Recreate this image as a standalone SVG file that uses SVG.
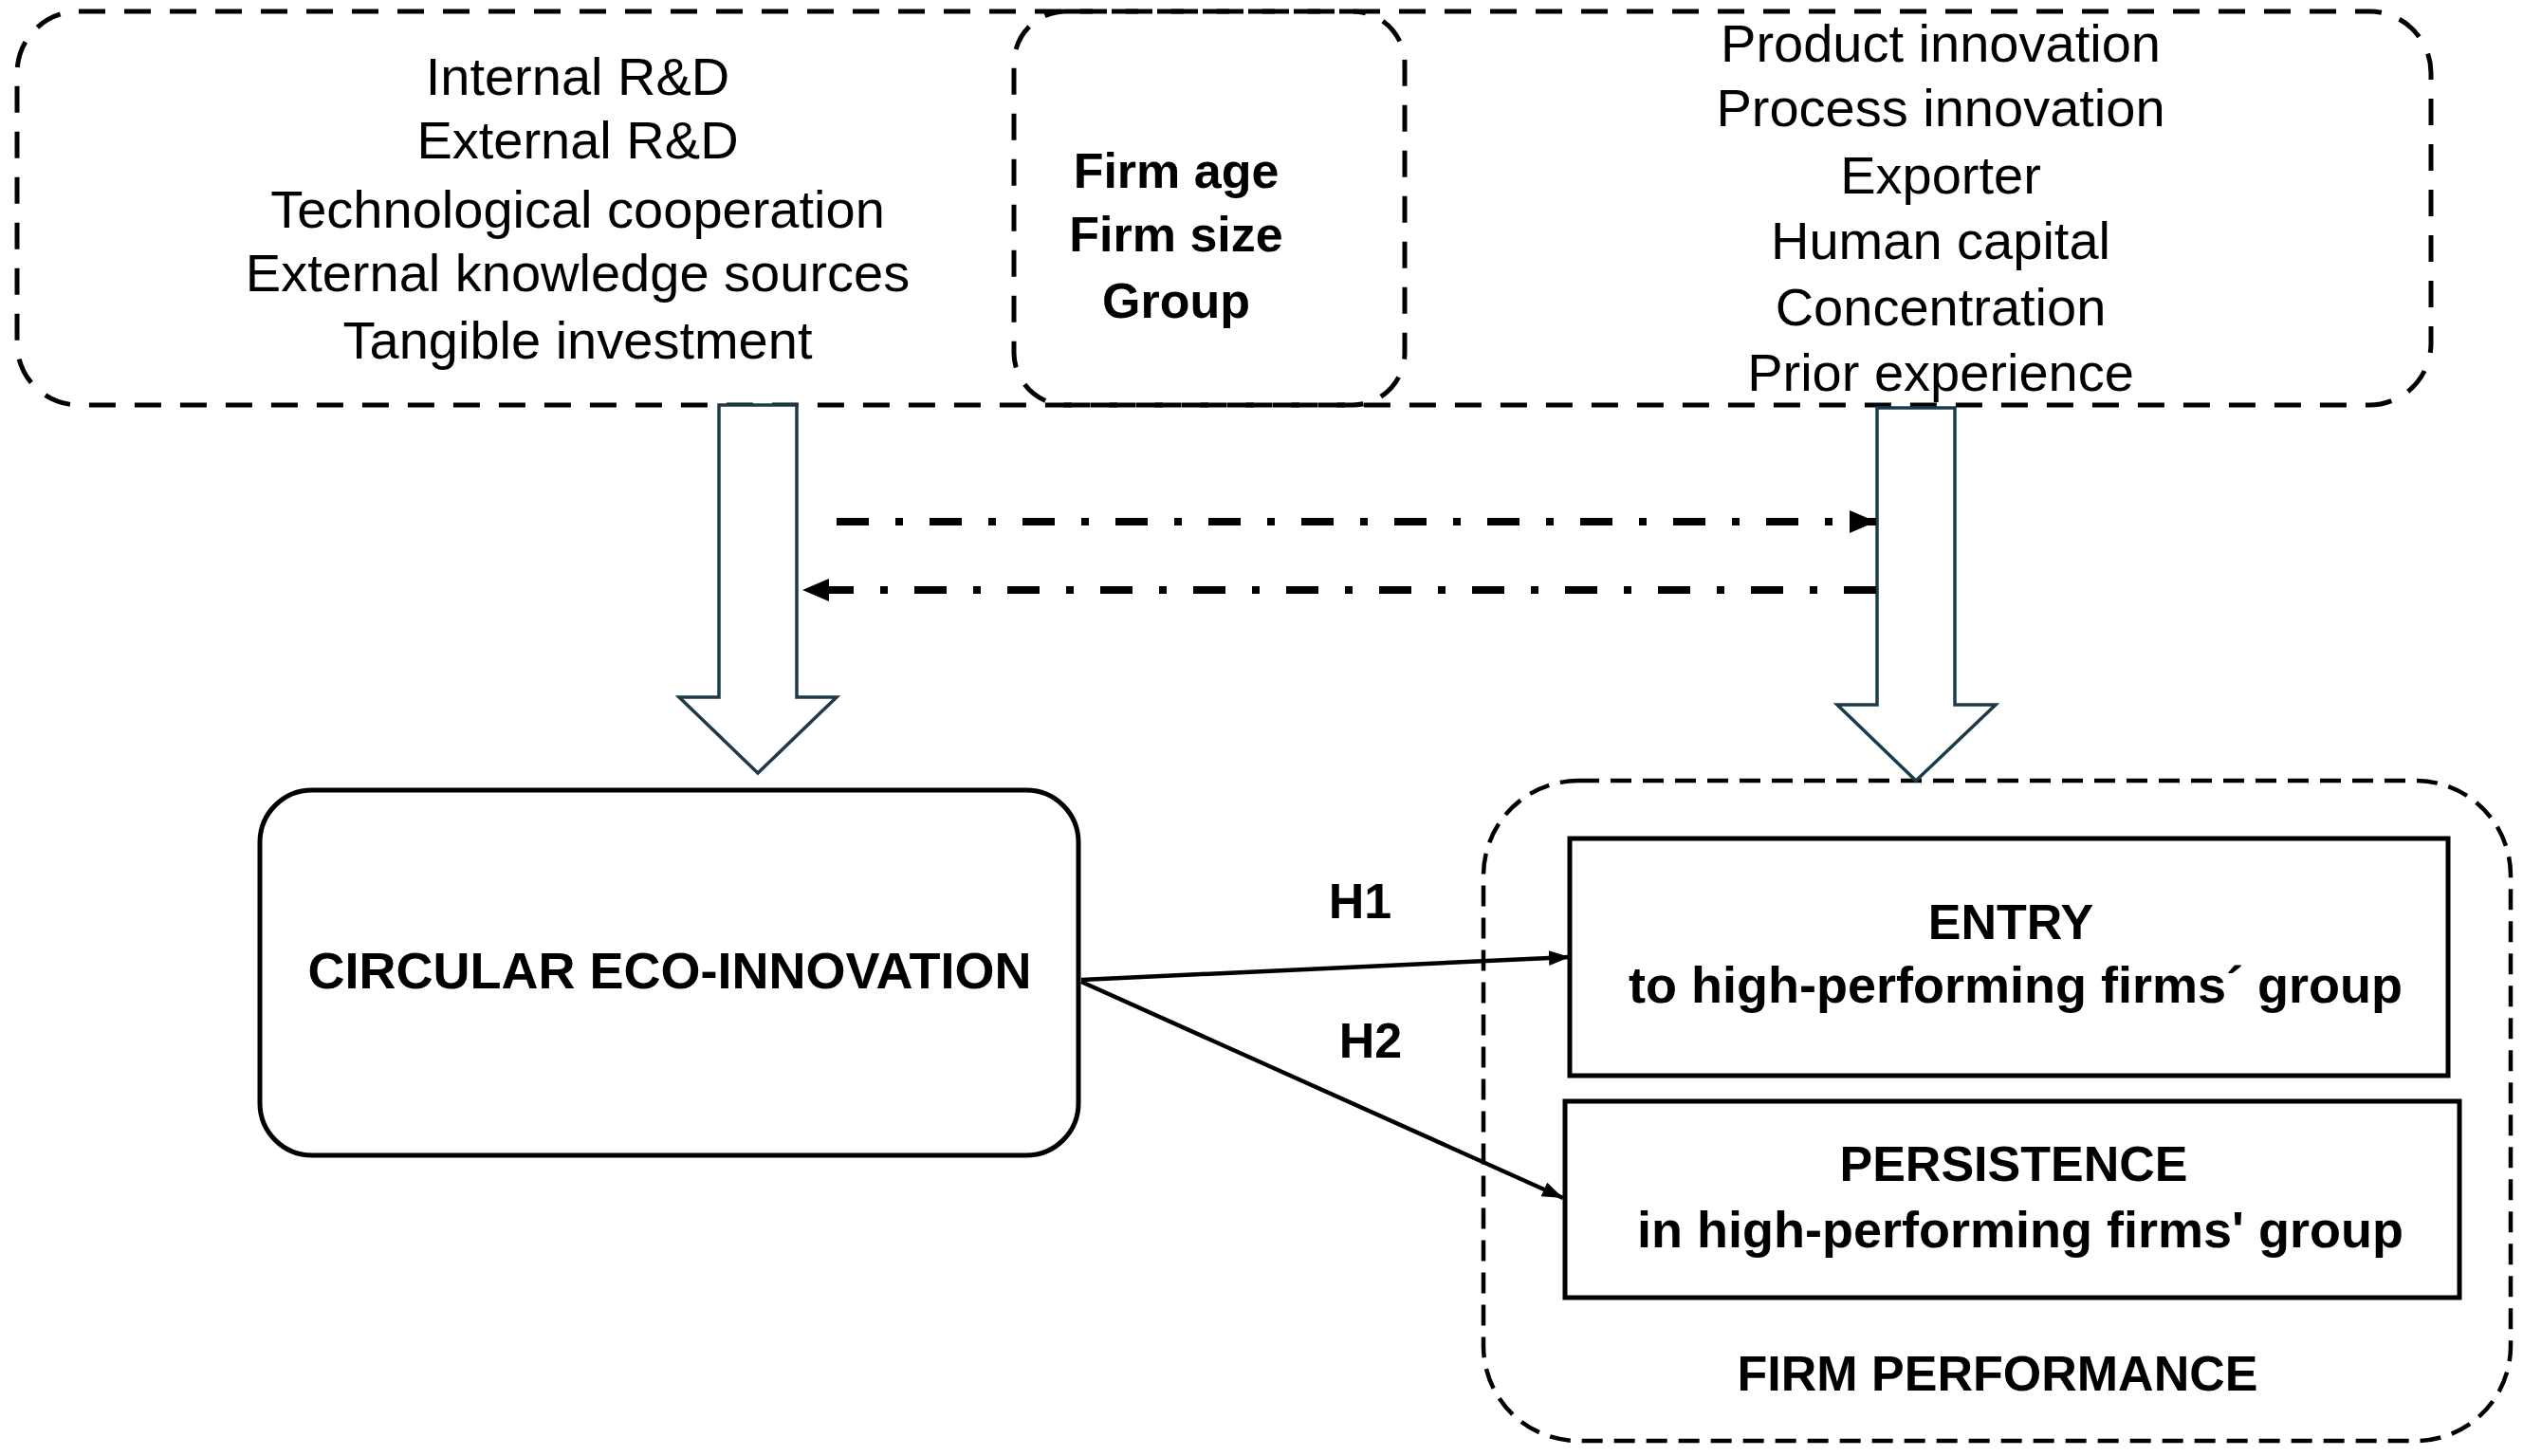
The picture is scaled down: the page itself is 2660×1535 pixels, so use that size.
<svg xmlns="http://www.w3.org/2000/svg" width="2660" height="1535" viewBox="0 0 2660 1535">
<style>
text{font-family:"Liberation Sans",Arial,sans-serif;fill:#000;text-anchor:middle}
.reg{font-size:56px}
.b{font-weight:bold;font-size:52px}
.bc{font-weight:bold;font-size:54px}
.bl{font-weight:bold;font-size:54px}
.dash{fill:none;stroke:#000;stroke-width:5;stroke-dasharray:28 20}
.dash2{fill:none;stroke:#000;stroke-width:4.5;stroke-dasharray:22 12}
.solid{fill:#fff;stroke:#000;stroke-width:5}
.block{fill:#fff;stroke:#1d3a4a;stroke-width:3.5;stroke-linejoin:miter}
.dd{fill:none;stroke:#000;stroke-width:8;stroke-dasharray:34 28 8 28}
.ln{fill:none;stroke:#000;stroke-width:4.5}
</style>
<defs>
<marker id="ah" markerUnits="userSpaceOnUse" markerWidth="30" markerHeight="30" refX="28" refY="12" orient="auto">
<path d="M0,0 L28,12 L0,24 Z" fill="#000"/>
</marker>
<marker id="ahs" markerUnits="userSpaceOnUse" markerWidth="24" markerHeight="20" refX="22" refY="8" orient="auto">
<path d="M0,0 L22,8 L0,16 Z" fill="#000"/>
</marker>
</defs>
<rect width="2660" height="1535" fill="#fff"/>

<g id="determinants">
<rect class="dash" x="18" y="12" width="2545" height="415" rx="65"/>
<text class="reg" x="609" y="100">Internal R&amp;D</text>
<text class="reg" x="609" y="167">External R&amp;D</text>
<text class="reg" x="609" y="240">Technological cooperation</text>
<text class="reg" x="609" y="307">External knowledge sources</text>
<text class="reg" x="609" y="378">Tangible investment</text>
<text class="reg" x="2046" y="65">Product innovation</text>
<text class="reg" x="2046" y="133">Process innovation</text>
<text class="reg" x="2046" y="204">Exporter</text>
<text class="reg" x="2046" y="273">Human capital</text>
<text class="reg" x="2046" y="343">Concentration</text>
<text class="reg" x="2046" y="412">Prior experience</text>
</g>

<g id="controls">
<rect class="dash" x="1069" y="12" width="412" height="415" rx="55"/>
<text class="b" x="1240" y="198">Firm age</text>
<text class="b" x="1240" y="265">Firm size</text>
<text class="b" x="1240" y="335">Group</text>
</g>

<g id="circular">
<rect class="solid" x="274" y="833" width="863" height="385" rx="55"/>
<text class="bc" x="706" y="1042">CIRCULAR ECO-INNOVATION</text>
</g>

<g id="performance">
<rect class="dash2" x="1564" y="823" width="1083" height="696" rx="100"/>
<text class="b" x="2106" y="1466">FIRM PERFORMANCE</text>
</g>

<g id="entry">
<rect class="solid" x="1655" y="884" width="926" height="250"/>
<text class="b" x="2120" y="990">ENTRY</text>
<text class="bl" x="2125" y="1057">to high-performing firms´ group</text>
</g>

<g id="persistence">
<rect class="solid" x="1650" y="1161" width="943" height="207"/>
<text class="b" x="2123" y="1245">PERSISTENCE</text>
<text class="bl" x="2130" y="1315">in high-performing firms' group</text>
</g>

<g id="connectors">
<polygon class="block" points="758,427 840,427 840,735 882,735 799,815 716,735 758,735"/>
<polygon class="block" points="1979,430 2061,430 2061,743 2104,743 2020,823 1937,743 1979,743"/>
<line class="dd" x1="882" y1="550" x2="1978" y2="550" marker-end="url(#ah)"/>
<line class="dd" x1="1978" y1="622" x2="846" y2="622" marker-end="url(#ah)"/>
<line class="ln" x1="1140" y1="1033" x2="1655" y2="1009" marker-end="url(#ahs)"/>
<line class="ln" x1="1140" y1="1035" x2="1648" y2="1263" marker-end="url(#ahs)"/>
<text class="b" x="1434" y="968">H1</text>
<text class="b" x="1445" y="1115">H2</text>
</g>
</svg>
